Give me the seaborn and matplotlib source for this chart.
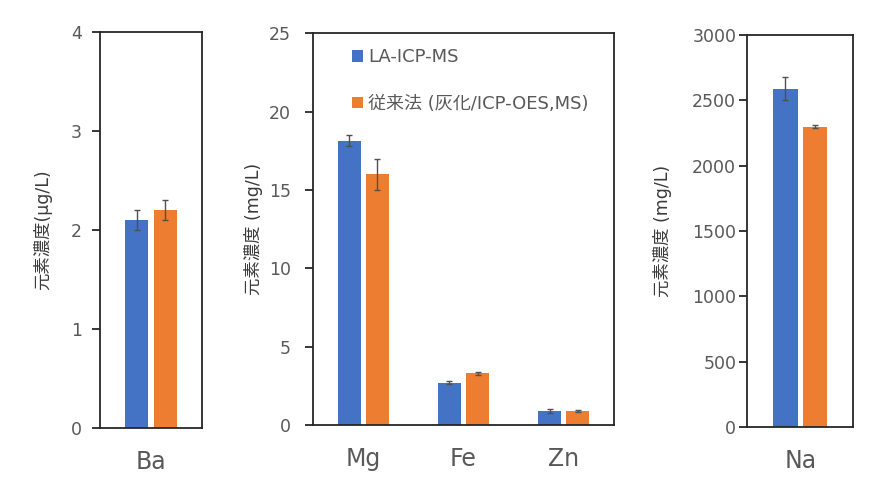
import pandas as pd
import matplotlib
matplotlib.use("Agg")
import matplotlib.pyplot as plt
import seaborn as sns

# data
methods = ["LA-ICP-MS", "従来法 (灰化/ICP-OES,MS)"]
colors = ["#4472C4", "#ED7D31"]

ba_elements = ["Ba"]
ba_la = [2.1]
ba_conv = [2.2]
ba_la_err = [0.1]
ba_conv_err = [0.1]

mid_elements = ["Mg", "Fe", "Zn"]
mid_la = [18.15, 2.7, 0.9]
mid_conv = [16.0, 3.3, 0.9]
mid_la_err = [0.37, 0.1, 0.12]
mid_conv_err = [1.0, 0.1, 0.04]

na_elements = ["Na"]
na_la = [2590]
na_conv = [2300]
na_la_err = [90]
na_conv_err = [10]

sns.set_style("ticks")
# DejaVu for latin text, Noto CJK picks up the Japanese characters
plt.rcParams["font.family"] = ["DejaVu Sans", "Noto Sans CJK JP"]

tick_grey = "#595959"
spine_col = "#262626"


def panel(ax, elements, la, conv, la_err, conv_err, yticks, ylabel, label_x, ypad, legend=False):
    df = pd.DataFrame({
        "element": elements + elements,
        "method": [methods[0]] * len(elements) + [methods[1]] * len(elements),
        "value": la + conv,
    })
    sns.barplot(data=df, x="element", y="value", hue="method", palette=colors,
                saturation=1, width=0.56, gap=0.18, errorbar=None,
                linewidth=0, ax=ax, legend=legend)
    # error bars at the centre of each drawn bar
    for cont, vals, errs in zip(ax.containers, [la, conv], [la_err, conv_err]):
        for bar, v, e in zip(cont, vals, errs):
            ax.errorbar(bar.get_x() + bar.get_width() / 2, v, yerr=e, color="#505050",
                        capsize=2.5, elinewidth=1, capthick=1)
    ax.set_xlim(-0.5, len(elements) - 0.5)
    ax.set_ylim(yticks[0], yticks[-1])
    ax.set_yticks(yticks)
    ax.set_xlabel("")
    ax.set_ylabel(ylabel, fontsize=12.5, color="#3a3a3a")
    ax.yaxis.set_label_coords(label_x, 0.5)
    ax.tick_params(axis="y", length=6, width=1.3, color=spine_col, labelsize=12.5,
                   labelcolor=tick_grey, pad=ypad)
    ax.tick_params(axis="x", length=0, labelsize=17, labelcolor=tick_grey, pad=16)
    for s in ax.spines.values():
        s.set_color(spine_col)
        s.set_linewidth(1.3)


fig = plt.figure(figsize=(8.72, 4.88), dpi=100)
ax1 = fig.add_axes([0.1147, 0.123, 0.117, 0.812])
ax2 = fig.add_axes([0.359, 0.129, 0.345, 0.803])
ax3 = fig.add_axes([0.857, 0.125, 0.1216, 0.803])

panel(ax1, ba_elements, ba_la, ba_conv, ba_la_err, ba_conv_err,
      [0, 1, 2, 3, 4], "元素濃度(μg/L)", -0.47, 7)
panel(ax2, mid_elements, mid_la, mid_conv, mid_la_err, mid_conv_err,
      [0, 5, 10, 15, 20, 25], "元素濃度 (mg/L)", -0.166, 10, legend=True)
panel(ax3, na_elements, na_la, na_conv, na_la_err, na_conv_err,
      [0, 500, 1000, 1500, 2000, 2500, 3000], "元素濃度 (mg/L)", -0.71, 2)

handles, labels = ax2.get_legend_handles_labels()
ax2.legend(handles, labels, loc="upper left", bbox_to_anchor=(0.128, 0.962),
           frameon=False, fontsize=13, labelcolor=tick_grey,
           handlelength=0.62, handleheight=0.62, handletextpad=0.3,
           labelspacing=1.6, borderpad=0, borderaxespad=0)

fig.savefig("out.png", dpi=100)
